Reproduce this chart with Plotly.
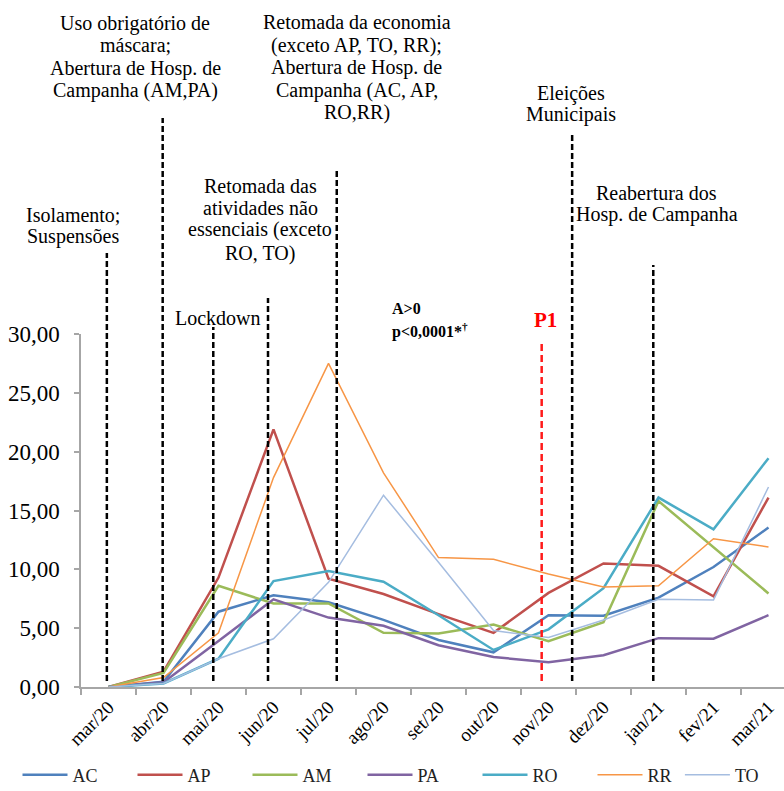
import plotly.graph_objects as go

months = ["mar/20", "abr/20", "mai/20", "jun/20", "jul/20", "ago/20", "set/20",
          "out/20", "nov/20", "dez/20", "jan/21", "fev/21", "mar/21"]

AC = [0, 0.45, 6.4, 7.8, 7.2, 5.7, 4.0, 2.95, 6.1, 6.05, 7.6, 10.2, 13.55]
AP = [0, 1.3, 9.3, 21.9, 9.2, 7.9, 6.2, 4.6, 8.0, 10.5, 10.3, 7.7, 16.1]
AM = [0, 1.2, 8.6, 7.1, 7.1, 4.6, 4.55, 5.3, 3.9, 5.5, 15.8, 11.9, 7.95]
PA = [0, 0.4, 3.9, 7.45, 5.9, 5.2, 3.55, 2.55, 2.1, 2.7, 4.15, 4.1, 6.1]
RO = [0, 0.3, 2.4, 9.0, 9.85, 8.95, 6.1, 3.15, 4.9, 8.4, 16.1, 13.4, 19.45]
RR = [0, 0.8, 4.6, 17.8, 27.5, 18.2, 11.0, 10.85, 9.6, 8.5, 8.6, 12.6, 11.9]
TO = [0, 0.3, 2.4, 4.1, 8.9, 16.3, 10.6, 4.8, 4.2, 5.7, 7.45, 7.4, 17.0]

series = [
    ("AC", AC, "#4F81BD", 2.5, "legend"),
    ("AP", AP, "#C0504D", 2.5, "legend"),
    ("AM", AM, "#9BBB59", 2.5, "legend"),
    ("PA", PA, "#8064A2", 2.5, "legend"),
    ("RO", RO, "#4BACC6", 2.5, "legend"),
    ("RR", RR, "#F79646", 1.5, "legend"),
    ("TO", TO, "#A5BDE0", 1.5, "legend2"),
]

W, H = 784, 791
L, R, T, B = 81, 0, 334, 104
pw = W - L - R
ph = H - T - B


def px_x(px):
    return (px - L) / pw


def px_y(py):
    return (H - B - py) / ph


SERIF = "Liberation Serif"

fig = go.Figure()
for name, vals, color, width, lg in series:
    fig.add_trace(go.Scatter(x=months, y=vals, mode="lines", name=name, legend=lg,
                             line=dict(color=color, width=width)))

# event markers: (category position, top pixel, colour, dash)
events = [
    (-0.03, 253, "black", "6px,3px"),
    (0.985, 118, "black", "6px,3px"),
    (1.905, 327, "black", "6px,3px"),
    (2.90, 298, "black", "6px,3px"),
    (4.15, 170, "black", "6px,3px"),
    (7.876, 343, "#FF1A1A", "7px,4px"),
    (8.43, 133, "black", "6px,3px"),
    (9.905, 265, "black", "6px,3px"),
]
for xc, top, col, dash in events:
    fig.add_shape(type="line", xref="x", yref="paper", x0=xc, x1=xc,
                  y0=px_y(681), y1=px_y(top),
                  line=dict(color=col, width=2.5, dash=dash))

notes = [
    ("Isolamento;", 72.5, 215),
    ("Suspensões", 72.5, 236),
    ("Uso obrigatório de", 135, 23),
    ("máscara;", 135, 45),
    ("Abertura de Hosp. de", 135, 68),
    ("Campanha (AM,PA)", 135, 90),
    ("Retomada da economia", 356.5, 22),
    ("(exceto AP, TO, RR);", 356.5, 45),
    ("Abertura de Hosp. de", 356.5, 67),
    ("Campanha (AC, AP,", 356.5, 90),
    ("RO,RR)", 356.5, 112),
    ("Retomada das", 260, 186),
    ("atividades não", 260, 208),
    ("essenciais (exceto", 260, 230),
    ("RO, TO)", 260, 253),
    ("Lockdown", 218, 318),
    ("Eleições", 571.3, 93),
    ("Municipais", 571.3, 114),
    ("Reabertura dos", 656.7, 193),
    ("Hosp. de Campanha", 656.7, 215),
]
for text, cx, cy in notes:
    fig.add_annotation(text=text, xref="paper", yref="paper", x=px_x(cx), y=px_y(cy),
                       xanchor="center", yanchor="middle", showarrow=False,
                       font=dict(family=SERIF, size=20, color="black"))

fig.add_annotation(text="<b>A&gt;0</b>", xref="paper", yref="paper", x=px_x(390), y=px_y(308),
                   xanchor="left", yanchor="middle", showarrow=False,
                   font=dict(family=SERIF, size=16, color="black"))
fig.add_annotation(text="<b>p&lt;0,0001*<sup>†</sup></b>", xref="paper", yref="paper",
                   x=px_x(390), y=px_y(330), xanchor="left", yanchor="middle", showarrow=False,
                   font=dict(family=SERIF, size=16, color="black"))
fig.add_annotation(text="<b>P1</b>", xref="paper", yref="paper", x=px_x(545.5), y=px_y(320),
                   xanchor="center", yanchor="middle", showarrow=False,
                   font=dict(family=SERIF, size=21, color="#FF0000"))

legend_common = dict(orientation="h", yanchor="middle", y=px_y(775), xanchor="left",
                     font=dict(family=SERIF, size=18, color="#222"),
                     itemwidth=45, entrywidth=55, entrywidthmode="pixels",
                     bgcolor="rgba(0,0,0,0)")

fig.update_layout(
    template="none",
    width=W, height=H,
    margin=dict(l=L, r=R, t=T, b=B, autoexpand=False),
    paper_bgcolor="white", plot_bgcolor="white",
    separators=",.",
    showlegend=True,
    legend=dict(x=px_x(17.5), **legend_common),
    legend2=dict(x=px_x(17.5 + 6 * 110.4), **legend_common),
    xaxis=dict(type="category", categoryorder="array", categoryarray=months,
               range=[-0.5, -0.5 + pw / 55.0], tickson="boundaries",
               ticks="outside", ticklen=6, tickcolor="#A6A6A6", tickwidth=1.5,
               showline=True, linecolor="#A6A6A6", linewidth=1.5,
               showgrid=False, zeroline=False, tickangle=-45, automargin=False,
               tickfont=dict(family=SERIF, size=19, color="black")),
    yaxis=dict(range=[0, 30], dtick=5, tick0=0, tickformat=".2f",
               ticks="outside", ticklen=5, tickcolor="#A6A6A6", tickwidth=1.5,
               showline=True, linecolor="#A6A6A6", linewidth=1.5,
               showgrid=False, zeroline=False, automargin=False, ticklabelstandoff=10,
               tickfont=dict(family=SERIF, size=23, color="black")),
)

fig.write_html("out.html")
